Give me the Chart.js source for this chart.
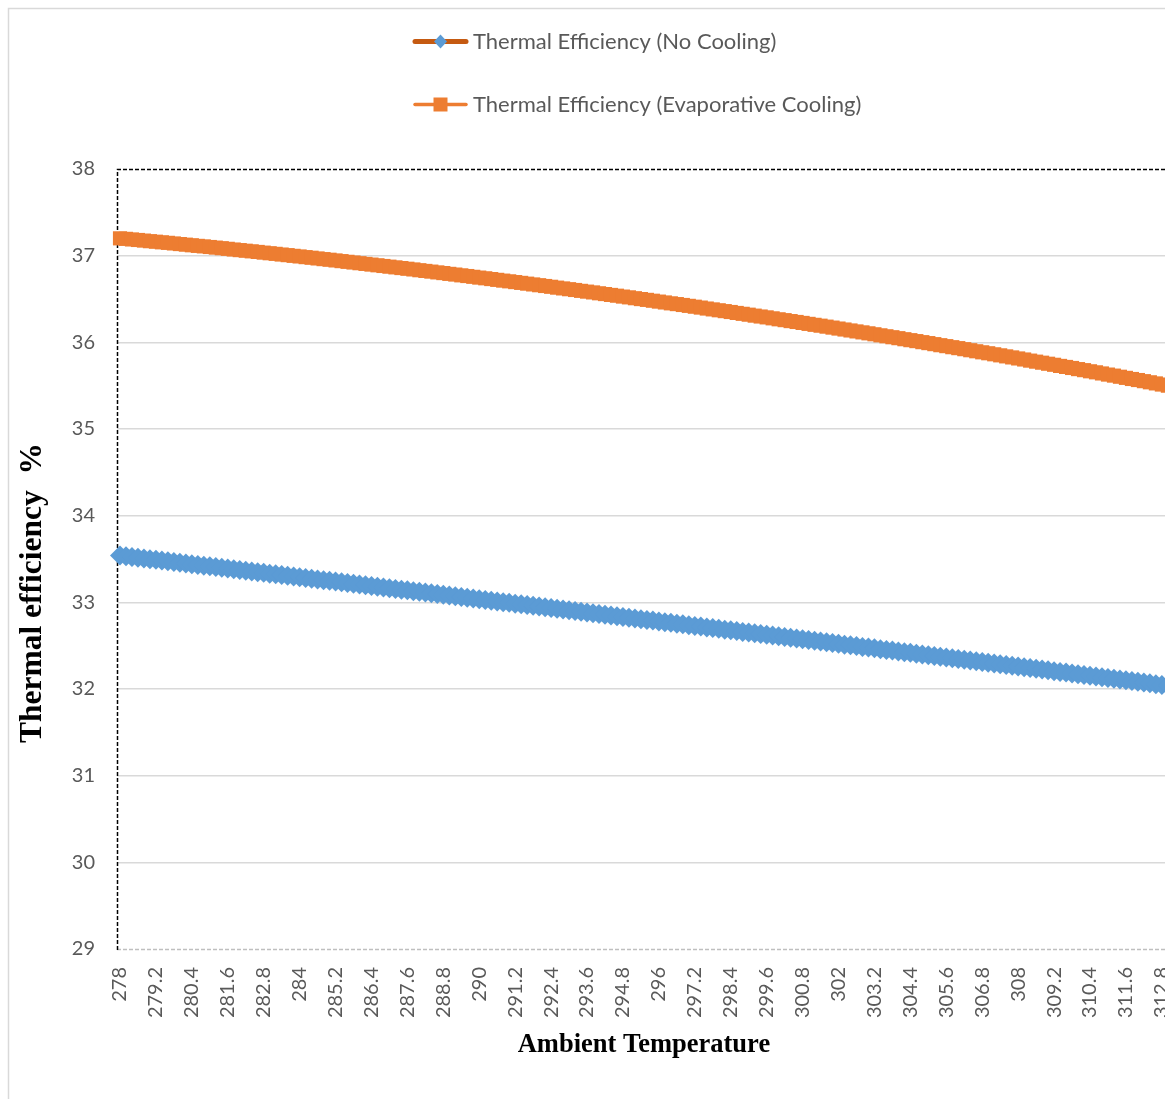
<!DOCTYPE html>
<html>
<head>
<meta charset="utf-8">
<title>Thermal efficiency vs ambient temperature</title>
<script src="https://cdn.jsdelivr.net/npm/chart.js@4.4.1/dist/chart.umd.min.js"></script>
<style>
  html, body { margin: 0; padding: 0; background: #ffffff; overflow: hidden; }
  #wrap { position: absolute; left: 0; top: 0; width: 1204px; height: 1099px; }
</style>
</head>
<body>
<div id="wrap"><canvas id="chart" width="1204" height="1099"></canvas></div>
<script>
// Ambient temperature (K), 0.2 K steps
const temperatures = [
  278, 278.2, 278.4, 278.6, 278.8, 279, 279.2, 279.4, 279.6, 279.8,
  280, 280.2, 280.4, 280.6, 280.8, 281, 281.2, 281.4, 281.6, 281.8,
  282, 282.2, 282.4, 282.6, 282.8, 283, 283.2, 283.4, 283.6, 283.8,
  284, 284.2, 284.4, 284.6, 284.8, 285, 285.2, 285.4, 285.6, 285.8,
  286, 286.2, 286.4, 286.6, 286.8, 287, 287.2, 287.4, 287.6, 287.8,
  288, 288.2, 288.4, 288.6, 288.8, 289, 289.2, 289.4, 289.6, 289.8,
  290, 290.2, 290.4, 290.6, 290.8, 291, 291.2, 291.4, 291.6, 291.8,
  292, 292.2, 292.4, 292.6, 292.8, 293, 293.2, 293.4, 293.6, 293.8,
  294, 294.2, 294.4, 294.6, 294.8, 295, 295.2, 295.4, 295.6, 295.8,
  296, 296.2, 296.4, 296.6, 296.8, 297, 297.2, 297.4, 297.6, 297.8,
  298, 298.2, 298.4, 298.6, 298.8, 299, 299.2, 299.4, 299.6, 299.8,
  300, 300.2, 300.4, 300.6, 300.8, 301, 301.2, 301.4, 301.6, 301.8,
  302, 302.2, 302.4, 302.6, 302.8, 303, 303.2, 303.4, 303.6, 303.8,
  304, 304.2, 304.4, 304.6, 304.8, 305, 305.2, 305.4, 305.6, 305.8,
  306, 306.2, 306.4, 306.6, 306.8, 307, 307.2, 307.4, 307.6, 307.8,
  308, 308.2, 308.4, 308.6, 308.8, 309, 309.2, 309.4, 309.6, 309.8,
  310, 310.2, 310.4, 310.6, 310.8, 311, 311.2, 311.4, 311.6, 311.8,
  312, 312.2, 312.4, 312.6, 312.8, 313
];

// Thermal efficiency (%) without inlet cooling
const effNoCooling = [
  33.540, 33.532, 33.523, 33.515, 33.507, 33.498, 33.490, 33.482, 33.473, 33.465,
  33.457, 33.448, 33.440, 33.432, 33.423, 33.415, 33.407, 33.398, 33.390, 33.382,
  33.373, 33.365, 33.357, 33.348, 33.340, 33.331, 33.323, 33.315, 33.306, 33.298,
  33.290, 33.281, 33.273, 33.264, 33.256, 33.248, 33.239, 33.231, 33.222, 33.214,
  33.205, 33.197, 33.189, 33.180, 33.172, 33.163, 33.155, 33.146, 33.138, 33.129,
  33.121, 33.113, 33.104, 33.096, 33.087, 33.079, 33.070, 33.062, 33.053, 33.045,
  33.036, 33.028, 33.019, 33.011, 33.002, 32.994, 32.985, 32.977, 32.968, 32.960,
  32.951, 32.943, 32.934, 32.926, 32.917, 32.909, 32.900, 32.891, 32.883, 32.874,
  32.866, 32.857, 32.849, 32.840, 32.832, 32.823, 32.814, 32.806, 32.797, 32.789,
  32.780, 32.771, 32.763, 32.754, 32.746, 32.737, 32.728, 32.720, 32.711, 32.703,
  32.694, 32.685, 32.677, 32.668, 32.659, 32.651, 32.642, 32.634, 32.625, 32.616,
  32.608, 32.599, 32.590, 32.582, 32.573, 32.564, 32.556, 32.547, 32.538, 32.530,
  32.521, 32.512, 32.504, 32.495, 32.486, 32.478, 32.469, 32.460, 32.451, 32.443,
  32.434, 32.425, 32.417, 32.408, 32.399, 32.390, 32.382, 32.373, 32.364, 32.355,
  32.347, 32.338, 32.329, 32.320, 32.312, 32.303, 32.294, 32.285, 32.277, 32.268,
  32.259, 32.250, 32.241, 32.233, 32.224, 32.215, 32.206, 32.197, 32.189, 32.180,
  32.171, 32.162, 32.153, 32.145, 32.136, 32.127, 32.118, 32.109, 32.100, 32.092,
  32.083, 32.074, 32.065, 32.056, 32.047, 32.039
];

// Thermal efficiency (%) with evaporative inlet cooling
const effEvapCooling = [
  37.200, 37.194, 37.187, 37.181, 37.174, 37.167, 37.161, 37.154, 37.148, 37.141,
  37.134, 37.127, 37.120, 37.113, 37.107, 37.100, 37.093, 37.086, 37.079, 37.071,
  37.064, 37.057, 37.050, 37.043, 37.035, 37.028, 37.021, 37.013, 37.006, 36.998,
  36.991, 36.983, 36.976, 36.968, 36.960, 36.953, 36.945, 36.937, 36.929, 36.921,
  36.913, 36.905, 36.897, 36.889, 36.881, 36.873, 36.865, 36.857, 36.849, 36.841,
  36.832, 36.824, 36.816, 36.807, 36.799, 36.790, 36.782, 36.773, 36.765, 36.756,
  36.747, 36.739, 36.730, 36.721, 36.712, 36.704, 36.695, 36.686, 36.677, 36.668,
  36.659, 36.650, 36.641, 36.631, 36.622, 36.613, 36.604, 36.594, 36.585, 36.576,
  36.566, 36.557, 36.547, 36.538, 36.528, 36.519, 36.509, 36.499, 36.490, 36.480,
  36.470, 36.460, 36.450, 36.441, 36.431, 36.421, 36.411, 36.401, 36.390, 36.380,
  36.370, 36.360, 36.350, 36.339, 36.329, 36.319, 36.308, 36.298, 36.288, 36.277,
  36.266, 36.256, 36.245, 36.235, 36.224, 36.213, 36.202, 36.192, 36.181, 36.170,
  36.159, 36.148, 36.137, 36.126, 36.115, 36.104, 36.093, 36.081, 36.070, 36.059,
  36.048, 36.036, 36.025, 36.014, 36.002, 35.991, 35.979, 35.967, 35.956, 35.944,
  35.933, 35.921, 35.909, 35.897, 35.885, 35.874, 35.862, 35.850, 35.838, 35.826,
  35.814, 35.802, 35.789, 35.777, 35.765, 35.753, 35.741, 35.728, 35.716, 35.704,
  35.691, 35.679, 35.666, 35.654, 35.641, 35.628, 35.616, 35.603, 35.590, 35.577,
  35.565, 35.552, 35.539, 35.526, 35.513, 35.500
];

const yTickValues = [29, 30, 31, 32, 33, 34, 35, 36, 37, 38];
const xLabelEvery = 6;

const seriesNames = ['Thermal Efficiency (No Cooling)', 'Thermal Efficiency (Evaporative Cooling)'];
const xTitle = 'Ambient Temperature';
const yTitle = 'Thermal efficiency  %';

const TEXT_GREY = '#595959';
const BLUE = '#5B9BD5';
const DARK_ORANGE = '#C55A11';
const ORANGE = '#ED7D31';

// Plot frame: dashed axis lines and outer chart border
const framePlugin = {
  id: 'frame',
  beforeDraw(chart) {
    const ctx = chart.ctx;
    ctx.save();
    ctx.fillStyle = '#ffffff';
    ctx.fillRect(0, 0, chart.width, chart.height);
    ctx.strokeStyle = '#D9D9D9';
    ctx.lineWidth = 1.5;
    ctx.beginPath();
    ctx.moveTo(8.5, chart.height + 5);
    ctx.lineTo(8.5, 8.5);
    ctx.lineTo(chart.width + 5, 8.5);
    ctx.stroke();
    ctx.restore();
  },
  beforeDatasetsDraw(chart) {
    const { ctx, chartArea: a } = chart;
    ctx.save();
    ctx.lineWidth = 1.5;
    ctx.setLineDash([4, 2]);
    // bottom axis line
    ctx.strokeStyle = '#BFBFBF';
    ctx.beginPath();
    ctx.moveTo(a.left, a.bottom + 0.5);
    ctx.lineTo(a.right, a.bottom + 0.5);
    ctx.stroke();
    // left axis and top border
    ctx.strokeStyle = '#000000';
    ctx.beginPath();
    ctx.moveTo(a.left + 0.5, a.bottom + 1);
    ctx.lineTo(a.left + 0.5, a.top + 0.5);
    ctx.lineTo(a.right, a.top + 0.5);
    ctx.stroke();
    ctx.restore();
  }
};

// Legend rows (line + marker swatch) and the vertical axis title
const legendPlugin = {
  id: 'legendRows',
  afterDraw(chart) {
    const ctx = chart.ctx;
    ctx.save();
    const x0 = 413, x1 = 468, xm = 440.5, textX = 473;
    const rows = [
      { y: 41.5, name: seriesNames[0], line: DARK_ORANGE, lw: 5, marker: 'diamond', fill: BLUE },
      { y: 104.5, name: seriesNames[1], line: ORANGE, lw: 3.5, marker: 'square', fill: ORANGE }
    ];
    rows.forEach(r => {
      ctx.strokeStyle = r.line;
      ctx.lineWidth = r.lw;
      ctx.lineCap = 'round';
      ctx.beginPath();
      ctx.moveTo(x0 + 2, r.y);
      ctx.lineTo(x1 - 2, r.y);
      ctx.stroke();
      ctx.fillStyle = r.fill;
      ctx.beginPath();
      if (r.marker === 'diamond') {
        ctx.moveTo(xm - 6.5, r.y);
        ctx.lineTo(xm, r.y - 7);
        ctx.lineTo(xm + 6.5, r.y);
        ctx.lineTo(xm, r.y + 7);
        ctx.closePath();
      } else {
        ctx.rect(xm - 7, r.y - 7, 14, 14);
      }
      ctx.fill();
      ctx.fillStyle = TEXT_GREY;
      ctx.font = '22px Lato';
      ctx.textAlign = 'left';
      ctx.textBaseline = 'middle';
      ctx.fillText(r.name, textX, r.y);
    });

    // vertical axis title
    ctx.translate(33, 593);
    ctx.rotate(-Math.PI / 2);
    ctx.fillStyle = '#000000';
    ctx.font = 'bold 31.5px "Liberation Serif"';
    ctx.textAlign = 'center';
    ctx.textBaseline = 'middle';
    ctx.fillText(yTitle, 0, 0);
    ctx.restore();
  }
};

new Chart(document.getElementById('chart'), {
  type: 'line',
  data: {
    labels: temperatures,
    datasets: [
      {
        label: seriesNames[0],
        data: effNoCooling,
        borderColor: DARK_ORANGE,
        borderWidth: 4,
        pointStyle: 'rectRot',
        pointRadius: 10,
        pointBackgroundColor: BLUE,
        pointBorderColor: BLUE,
        pointBorderWidth: 0,
        tension: 0,
        clip: false
      },
      {
        label: seriesNames[1],
        data: effEvapCooling,
        borderColor: ORANGE,
        borderWidth: 4,
        pointStyle: 'rect',
        pointRadius: 10,
        pointBackgroundColor: ORANGE,
        pointBorderColor: ORANGE,
        pointBorderWidth: 0,
        tension: 0,
        clip: false
      }
    ]
  },
  options: {
    responsive: false,
    animation: false,
    events: [],
    layout: { padding: { top: 169, right: 17, bottom: 0, left: 0 } },
    plugins: {
      legend: { display: false },
      tooltip: { enabled: false }
    },
    scales: {
      x: {
        type: 'category',
        offset: true,
        grid: { display: false, drawTicks: false },
        border: { display: false },
        ticks: {
          autoSkip: false,
          minRotation: 90,
          maxRotation: 90,
          padding: 18,
          color: TEXT_GREY,
          font: { family: 'Lato', size: 20 },
          callback: (value, index) => (index % xLabelEvery === 0 ? String(temperatures[index]) : null)
        },
        title: {
          display: true,
          text: xTitle,
          color: '#000000',
          font: { family: 'Liberation Serif', size: 26.5, weight: 'bold' },
          padding: { top: 0, bottom: 38 }
        },
        afterFit(scale) { scale.height = 150; }
      },
      y: {
        min: 29,
        max: 38,
        afterBuildTicks(scale) { scale.ticks = yTickValues.map(v => ({ value: v })); },
        grid: {
          drawTicks: false,
          lineWidth: 1.5,
          color: (c) => (c.tick && (c.tick.value === 29 || c.tick.value === 38)) ? 'rgba(0,0,0,0)' : '#D9D9D9'
        },
        border: { display: false },
        ticks: {
          padding: 22,
          color: TEXT_GREY,
          font: { family: 'Lato', size: 20 }
        },
        afterFit(scale) { scale.width = 117; }
      }
    }
  },
  plugins: [framePlugin, legendPlugin]
});
</script>
</body>
</html>
